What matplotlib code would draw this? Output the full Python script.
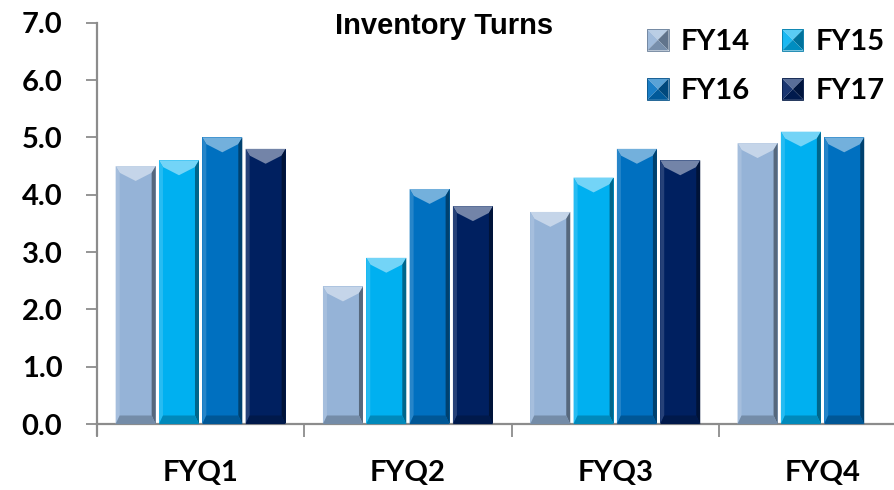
import numpy as np
import matplotlib
matplotlib.use("Agg")
import matplotlib.pyplot as plt
import matplotlib.colors as mcolors
from matplotlib.patches import Polygon, Patch
from matplotlib.legend_handler import HandlerBase

# ── data ─────────────────────────────────────────────────────────────────────
quarters = ["FYQ1", "FYQ2", "FYQ3", "FYQ4"]
years = ["FY14", "FY15", "FY16", "FY17"]
fy14 = [4.5, 2.4, 3.7, 4.9]
fy15 = [4.6, 2.9, 4.3, 5.1]
fy16 = [5.0, 4.1, 4.8, 5.0]
fy17 = [4.8, 3.8, 4.6, np.nan]   # no FY17 value for Q4
series = [fy14, fy15, fy16, fy17]
colors = ["#95B3D7", "#00B0F0", "#0070C0", "#002060"]

LABEL_FONT = ["Lato", "DejaVu Sans"]
AXIS_GRAY = "#8C8C8C"


def shade(c, f):
    """f > 0 mixes toward white, f < 0 toward black."""
    rgb = np.array(mcolors.to_rgb(c))
    if f > 0:
        return tuple(rgb + (1 - rgb) * f)
    return tuple(rgb * (1 + f))


def bevel_bar(ax, bar, color):
    # fake the PowerPoint "bevel" look with a few polygons on top of the bar
    x0, w, h = bar.get_x(), bar.get_width(), bar.get_height()
    if not np.isfinite(h) or h <= 0:
        return
    x1 = x0 + w
    xc = x0 + w / 2
    side = w * 0.10       # thin side bevels
    top_d = 0.26          # depth of the top chevron, data units
    bot_d = 0.15
    top = Polygon([(x0, h), (x1, h), (x1 - side, h - top_d * 0.45),
                   (xc, h - top_d), (x0 + side, h - top_d * 0.45)],
                  closed=True, fc=shade(color, 0.45), ec="none", zorder=3)
    left = Polygon([(x0, 0), (x0 + side, bot_d), (x0 + side, h - top_d * 0.45), (x0, h)],
                   closed=True, fc=shade(color, 0.15), ec="none", zorder=3)
    right = Polygon([(x1, 0), (x1 - side, bot_d), (x1 - side, h - top_d * 0.45), (x1, h)],
                    closed=True, fc=shade(color, -0.42), ec="none", zorder=3)
    bottom = Polygon([(x0, 0), (x1, 0), (x1 - side, bot_d), (x0 + side, bot_d)],
                     closed=True, fc=shade(color, -0.22), ec="none", zorder=3)
    for p in (top, left, right, bottom):
        ax.add_patch(p)


class PyramidHandler(HandlerBase):
    # legend key drawn as a small bevelled square
    def create_artists(self, legend, orig_handle, xdescent, ydescent,
                       width, height, fontsize, trans):
        c = orig_handle.get_facecolor()
        s = min(width, height)
        x0 = -xdescent + (width - s) / 2
        y0 = -ydescent + (height - s) / 2
        x1, y1 = x0 + s, y0 + s
        cx, cy = (x0 + x1) / 2, (y0 + y1) / 2
        tris = [
            ([(x0, y1), (x1, y1), (cx, cy)], 0.35),
            ([(x0, y0), (x0, y1), (cx, cy)], 0.10),
            ([(x1, y0), (x1, y1), (cx, cy)], -0.35),
            ([(x0, y0), (x1, y0), (cx, cy)], -0.20),
        ]
        arts = []
        for pts, f in tris:
            p = Polygon(pts, closed=True, fc=shade(c, f), ec="none", transform=trans)
            arts.append(p)
        frame = Polygon([(x0, y0), (x1, y0), (x1, y1), (x0, y1)], closed=True,
                        fc="none", ec=shade(c, -0.3), lw=0.6, transform=trans)
        arts.append(frame)
        return arts


# ── figure ───────────────────────────────────────────────────────────────────
fig = plt.figure(figsize=(8.94, 4.90), dpi=100)
cat_px = 207.3
ax = fig.add_axes([97 / 894, 1 - 435 / 490, 4 * cat_px / 894, (435 - 22.7) / 490])

x = np.arange(len(quarters))
bar_w = 0.193
step = 0.209
offsets = (np.arange(len(years)) - 1.5) * step

for vals, col, off in zip(series, colors, offsets):
    bars = ax.bar(x + off, vals, width=bar_w, color=col, zorder=2, linewidth=0)
    for b in bars:
        bevel_bar(ax, b, col)

ax.set_xlim(-0.5, len(quarters) - 0.5)
ax.set_ylim(-0.19, 7.0)

for side in ("top", "right"):
    ax.spines[side].set_visible(False)
ax.spines["bottom"].set_position(("data", 0))
for side in ("left", "bottom"):
    ax.spines[side].set_color(AXIS_GRAY)
    ax.spines[side].set_linewidth(1.6)

ax.set_yticks(np.arange(0, 8, 1))
ax.set_yticklabels([f"{v:.1f}" for v in np.arange(0, 8, 1)])
ax.tick_params(axis="y", direction="out", length=8, width=1.3, color=AXIS_GRAY, pad=17)

# boundary ticks on the x axis, labels at the category centres
ax.set_xticks(np.arange(-0.5, len(quarters), 1.0))
ax.set_xticklabels([])
ax.set_xticks(x, minor=True)
ax.set_xticklabels(quarters, minor=True)
ax.tick_params(axis="x", which="major", direction="out", length=9, width=1.3, color=AXIS_GRAY)
ax.tick_params(axis="x", which="minor", length=0, pad=26)

for lab in ax.get_yticklabels() + ax.get_xticklabels(minor=True):
    lab.set_fontfamily(LABEL_FONT)
    lab.set_fontweight("bold")
    lab.set_fontsize(21)

fig.text(444 / 894, 1 - 26 / 490, "Inventory Turns", ha="center", va="center",
         family=["Liberation Sans", "DejaVu Sans"], weight="bold", fontsize=21)

# legend: reorder so rows read FY14 FY15 / FY16 FY17
handles = [Patch(facecolor=c) for c in colors]
order = [0, 2, 1, 3]
fig.legend([handles[i] for i in order], [years[i] for i in order],
           loc="upper left", bbox_to_anchor=(647 / 894, 1 - 29 / 490), ncol=2,
           frameon=False, handler_map={Patch: PyramidHandler()},
           prop={"family": LABEL_FONT, "weight": "bold", "size": 21},
           handlelength=0.75, handleheight=0.75, handletextpad=0.4,
           columnspacing=1.1, labelspacing=0.8, borderpad=0, borderaxespad=0)

fig.savefig("out.png", dpi=100)
